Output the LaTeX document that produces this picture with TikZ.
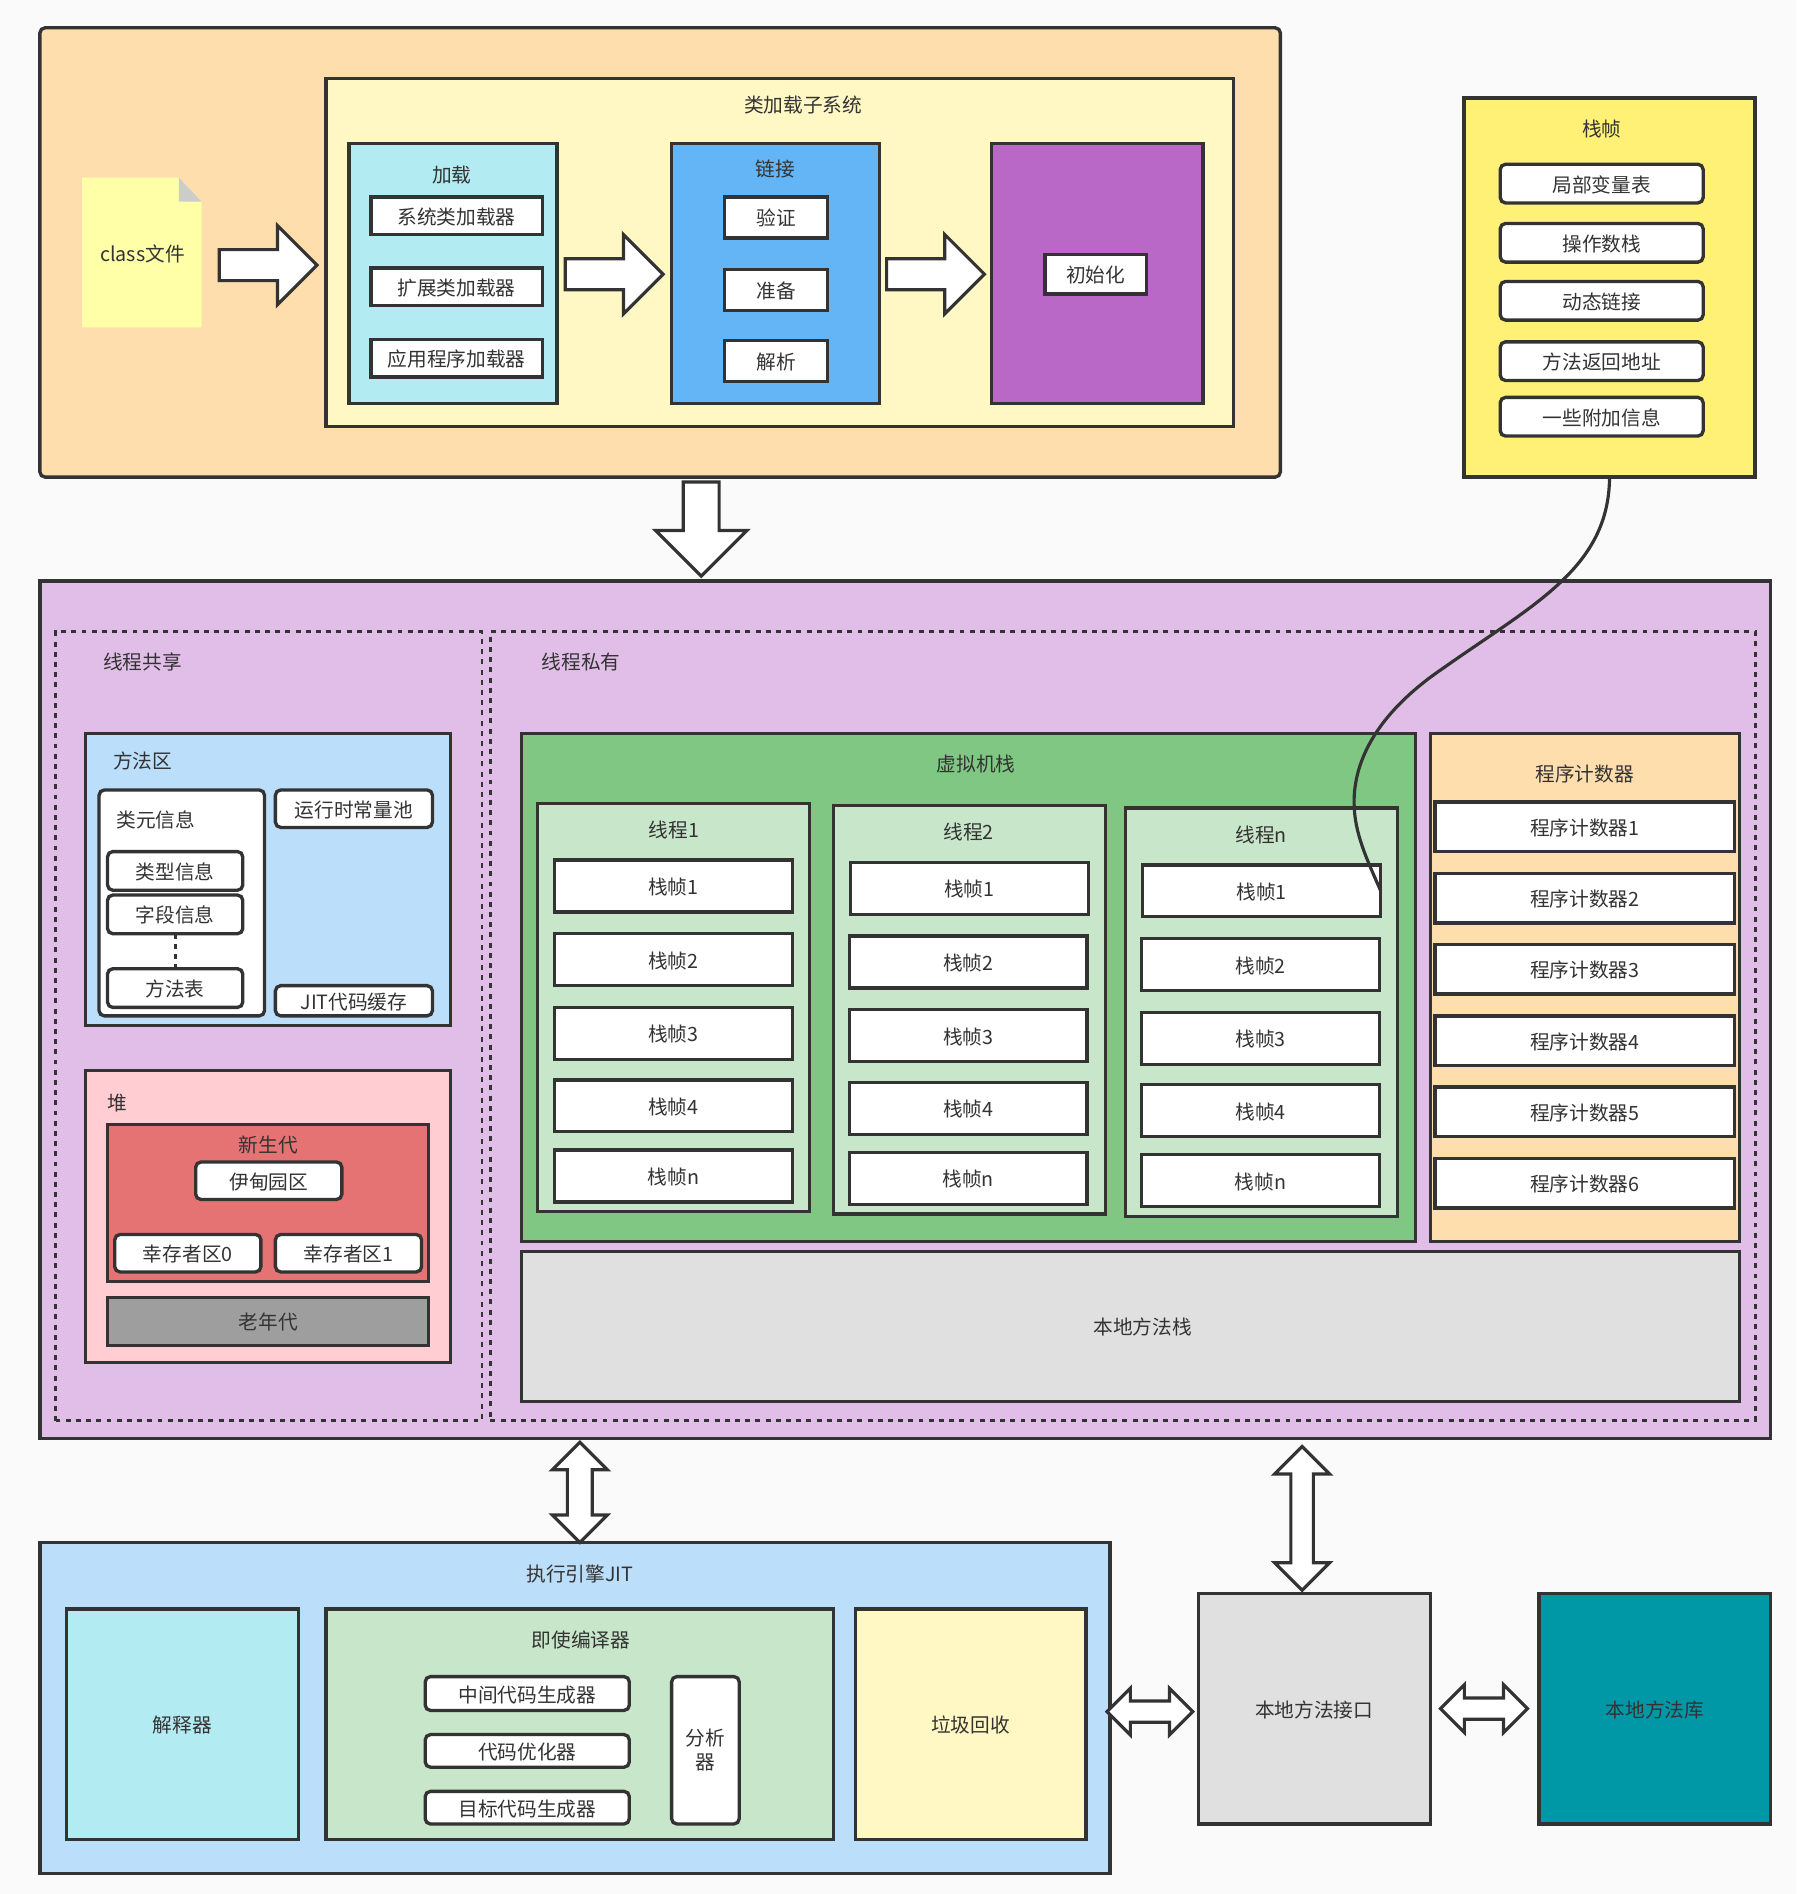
\documentclass[tikz,border=0pt]{standalone}
\usepackage{fontspec}
\setmainfont{Noto Sans CJK SC}
\usepackage{xcolor}
\usetikzlibrary{positioning,shapes.arrows}
\definecolor{ink}{RGB}{51, 51, 51}
\definecolor{page}{RGB}{250, 250, 250}
\definecolor{apricot}{RGB}{255, 222, 173}
\definecolor{cream}{RGB}{255, 247, 196}
\definecolor{memo}{RGB}{255, 255, 168}
\definecolor{aqua}{RGB}{178, 235, 242}
\definecolor{sky}{RGB}{100, 181, 246}
\definecolor{violet}{RGB}{186, 104, 200}
\definecolor{lemon}{RGB}{255, 241, 118}
\definecolor{lilac}{RGB}{225, 190, 231}
\definecolor{pale}{RGB}{187, 222, 251}
\definecolor{blush}{RGB}{255, 205, 210}
\definecolor{coral}{RGB}{229, 115, 115}
\definecolor{ash}{RGB}{158, 158, 158}
\definecolor{leaf}{RGB}{129, 199, 132}
\definecolor{mint}{RGB}{200, 230, 201}
\definecolor{mist}{RGB}{224, 224, 224}
\definecolor{teal}{RGB}{0, 151, 167}
\definecolor{fold}{RGB}{204, 204, 204}
\newcommand{\px}{0.02415cm}

\begin{document}
\begin{tikzpicture}[
    x=\px,y=-\px,
    every node/.style={font=\fontsize{11.2}{13.7}\selectfont,text=ink,inner sep=0pt,outer sep=0pt,align=center},
    size/.style 2 args={minimum width=#1*\px,minimum height=#2*\px},
    tall/.style={text height=10.7pt,text depth=1pt},
    lbl/.style={text height=9.4pt,text depth=1pt},
    panel/.style={draw=ink,line width=1.9pt,tall},
    item/.style={panel,fill=white},
    soft/.style={panel,fill=white,rounded corners=3pt},
    flow/.style={draw=ink,fill=white,line width=1.8pt,inner xsep=0pt},
    onearr/.style n args={3}{single arrow,flow,anchor=tail,minimum height=#1*\px,minimum width=#2*\px,
                inner ysep=#3*0.5*\px,single arrow head extend=(#2-#3)*0.5*\px},
    twoarr/.style n args={3}{double arrow,flow,minimum height=#1*\px,minimum width=#2*\px,
                inner ysep=#3*0.5*\px,double arrow head extend=(#2-#3)*0.5*\px},
    dots/.style={draw=ink,line width=1.6pt,dash pattern=on 2.8pt off 3pt},
    curve/.style={draw=ink,line width=1.8pt}
]
\fill[page] (0,0) rectangle (1487,1568);

\node[panel,fill=apricot,rounded corners=3pt,size={1027}{372}] (outer) at (546.5,209) {};
\node[panel,fill=cream,size={751}{288}] (sub) at (645.5,209) {};
\node[lbl] (subt) at (665,87) {类加载子系统};
\fill[memo] (68,147) -- (148,147) -- (167,167) -- (167,271) -- (68,271) -- cycle;
\fill[fold] (148,147) -- (167,167) -- (148,167) -- cycle;
\node[lbl] (cf) at (118,210) {class文件};

\node[panel,fill=aqua,size={172}{215}] (load) at (375,226.5) {};
\node[lbl] (loadt) at (374,145) {加载};
\node[item,size={142}{31}] (sys) at (378,178.5) {系统类加载器};
\node[item,size={142}{31}] (ext) at (378,237.5) {扩展类加载器};
\node[item,size={142}{31}] (app) at (378,296.5) {应用程序加载器};

\node[panel,fill=sky,size={172}{215}] (link) at (642,226.5) {};
\node[lbl] (linkt) at (642,140) {链接};
\node[item,size={85}{34}] (verify) at (642.5,180) {验证};
\node[item,size={85}{34}] (prep) at (642.5,240) {准备};
\node[item,size={85}{34}] (res) at (642.5,299) {解析};

\node[panel,fill=violet,size={175}{215}] (init) at (908.5,226.5) {};
\node[item,size={84}{33}] (initb) at (907,227) {初始化};

\node[panel,fill=lemon,size={241}{314}] (frame) at (1332.5,238) {};
\node[lbl] (framet) at (1326,107) {栈帧};
\node[soft,size={168}{32}] (vars) at (1326,152) {局部变量表};
\node[soft,size={168}{32}] (opst) at (1326,201) {操作数栈};
\node[soft,size={168}{32}] (dyn) at (1326,249) {动态链接};
\node[soft,size={168}{32}] (ret) at (1326,299) {方法返回地址};
\node[soft,size={168}{32}] (info) at (1326,345) {一些附加信息};

\node[panel,fill=lilac,size={1433}{710}] (main) at (749.5,836) {};
\node[dots,size={353}{653}] (shared) at (222.5,849.5) {};
\node[dots,size={1047}{653}] (private) at (929.5,849.5) {};
\node[lbl] (sharedt) at (118,548) {线程共享};
\node[lbl] (privatet) at (481,548) {线程私有};

\node[panel,fill=pale,size={302}{242}] (method) at (222,728) {};
\node[lbl] (methodt) at (118,630) {方法区};
\node[soft,size={137}{187}] (klass) at (150.5,747.5) {};
\node[lbl] (klasst) at (129,679) {类元信息};
\node[soft,size={112}{32}] (type) at (145,721) {类型信息};
\node[soft,size={112}{32},below=4*\px of type] (field) {字段信息};
\node[soft,size={112}{32},below=29*\px of field] (mtable) {方法表};
\node[soft,size={130}{31}] (pool) at (293,669.5) {运行时常量池};
\node[soft,size={130}{25}] (jit) at (293,828.5) {JIT代码缓存};
\draw[dots] (field) -- (mtable);

\node[panel,fill=blush,size={302}{242}] (heap) at (222,1007) {};
\node[lbl] (heapt) at (97,913) {堆};
\node[panel,fill=coral,size={266}{130}] (young) at (222,996) {};
\node[lbl] (youngt) at (222,948) {新生代};
\node[soft,size={121}{31}] (eden) at (222.5,977.5) {伊甸园区};
\node[soft,size={121}{31}] (sur0) at (155.5,1037.5) {幸存者区0};
\node[soft,size={121}{31},right=12*\px of sur0] (sur1) {幸存者区1};
\node[panel,fill=ash,size={266}{40}] (old) at (222,1094) {老年代};

\node[panel,fill=leaf,size={740}{421}] (vm) at (802,817.5) {};
\node[lbl] (vmt) at (808,633) {虚拟机栈};

\node[panel,fill=mint,size={225}{338}] (t1) at (557.5,834) {};
\node[lbl] (t1t) at (558,687) {线程1};
\node[item,size={197}{43}] (t1a) at (557.5,733.5) {栈帧1};
\node[item,size={197}{43},below=18*\px of t1a] (t1b) {栈帧2};
\node[item,size={197}{43},below=18*\px of t1b] (t1c) {栈帧3};
\node[item,size={197}{43},below=17*\px of t1c] (t1d) {栈帧4};
\node[item,size={197}{43},below=15*\px of t1d] (t1n) {栈帧n};

\node[panel,fill=mint,size={225}{338}] (t2) at (802.5,836) {};
\node[lbl] (t2t) at (802,689) {线程2};
\node[item,size={197}{43}] (t2a) at (802.5,735.5) {栈帧1};
\node[item,size={197}{43}] (t2b) at (801.5,796.5) {栈帧2};
\node[item,size={197}{43},below=18*\px of t2b] (t2c) {栈帧3};
\node[item,size={197}{43},below=17*\px of t2c] (t2d) {栈帧4};
\node[item,size={197}{43},below=15*\px of t2d] (t2n) {栈帧n};

\node[panel,fill=mint,size={225}{338}] (tn) at (1044.5,838) {};
\node[lbl] (tnt) at (1044,691) {线程n};
\node[item,size={197}{43}] (tna) at (1044.5,737.5) {栈帧1};
\node[item,size={197}{43}] (tnb) at (1043.5,798.5) {栈帧2};
\node[item,size={197}{43},below=18*\px of tnb] (tnc) {栈帧3};
\node[item,size={197}{43},below=17*\px of tnc] (tnd) {栈帧4};
\node[item,size={197}{43},below=15*\px of tnd] (tnn) {栈帧n};

\node[panel,fill=apricot,size={256}{421}] (pc) at (1312,817.5) {};
\node[lbl] (pct) at (1312,641) {程序计数器};
\node[item,size={248}{41}] (pc1) at (1312,684.5) {程序计数器1};
\node[item,size={248}{41},below=18*\px of pc1] (pc2) {程序计数器2};
\node[item,size={248}{41},below=18*\px of pc2] (pc3) {程序计数器3};
\node[item,size={248}{41},below=18*\px of pc3] (pc4) {程序计数器4};
\node[item,size={248}{41},below=18*\px of pc4] (pc5) {程序计数器5};
\node[item,size={248}{41},below=18*\px of pc5] (pc6) {程序计数器6};

\node[panel,fill=mist,size={1008}{124}] (nstack) at (936,1098) {};
\node[lbl] (nstackt) at (946,1099) {本地方法栈};

\node[panel,fill=pale,size={886}{274}] (exec) at (476,1414) {};
\node[lbl] (exect) at (480,1303) {执行引擎JIT};
\node[panel,fill=aqua,size={192}{191}] (interp) at (151,1427.5) {解释器};
\node[panel,fill=mint,size={420}{191}] (comp) at (480,1427.5) {};
\node[lbl] (compt) at (481,1358) {即使编译器};
\node[soft,size={169}{28}] (mid) at (436.5,1402) {中间代码生成器};
\node[soft,size={169}{27}] (opt) at (436.5,1449.5) {代码优化器};
\node[soft,size={169}{27}] (target) at (436.5,1496.5) {目标代码生成器};
\node[soft,size={56}{122},text height=,text depth=] (ana) at (584,1449) {分析\\器};
\node[panel,fill=cream,size={191}{191}] (gc) at (803.5,1427.5) {垃圾回收};
\node[panel,fill=mist,size={192}{191}] (nif) at (1088,1414.5) {本地方法接口};
\node[panel,fill=teal,size={192}{191}] (nlib) at (1370,1414.5) {本地方法库};

\node[onearr={81}{63}{23}] (a1) at (181.5,219.5) {};
\node[onearr={81}{63}{23}] (a2) at (468,227) {};
\node[onearr={81}{63}{23}] (a3) at (734,227) {};
\node[onearr={78}{73}{27},rotate=-90] (a4) at (580.5,399) {};
\node[twoarr={83}{43}{18},rotate=90] (a5) at (480,1235.5) {};
\node[twoarr={119}{43}{16},rotate=90] (a6) at (1078,1257) {};
\node[twoarr={71}{36}{15}] (a7) at (952,1417) {};
\node[twoarr={72}{37}{15}] (a8) at (1228.5,1414.5) {};

\draw[curve] (frame.south) .. controls (1332,470) and (1270,500) .. (1195,553)
    .. controls (1130,597) and (1121,640) .. (1121,664)
    .. controls (1121,690) and (1132,712) .. (tna.east);
\end{tikzpicture}
\end{document}
